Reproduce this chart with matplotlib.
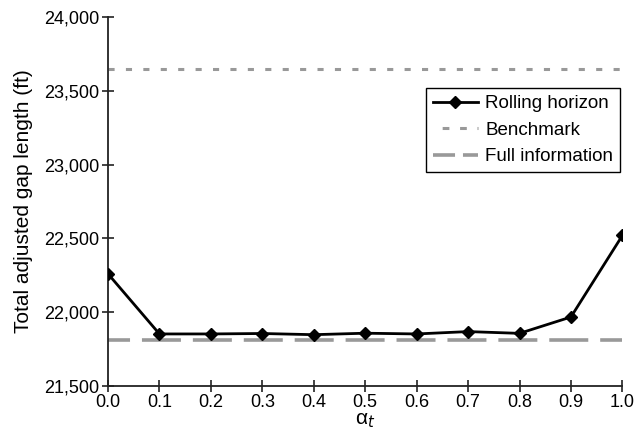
import matplotlib
matplotlib.use("Agg")
import matplotlib.pyplot as plt
from matplotlib.lines import Line2D
from matplotlib.ticker import FuncFormatter

plt.rcParams['font.family'] = ['Liberation Sans', 'DejaVu Sans']

# data
alpha = [0.0, 0.1, 0.2, 0.3, 0.4, 0.5, 0.6, 0.7, 0.8, 0.9, 1.0]
rolling = [22260, 21852, 21852, 21855, 21847, 21857, 21852, 21868, 21856, 21967, 22520]
benchmark = 23650
full_info = 21812

fig = plt.figure(figsize=(6.39, 4.34), dpi=100)
ax = fig.add_axes([0.169, 0.111, 0.805, 0.849])

ax.axhline(benchmark, color='#999999', lw=2.2, linestyle=(0, (2, 3.7)), zorder=1)
ax.axhline(full_info, color='#999999', lw=2.6, linestyle=(4.7, (10.8, 3.3)), zorder=1)
ax.plot(alpha, rolling, color='black', lw=2, marker='D', markersize=6.5, zorder=3)

ax.set_xlim(0, 1.0)
ax.set_ylim(21500, 24000)
ax.set_xticks([i / 10 for i in range(11)])
ax.set_yticks(range(21500, 24001, 500))
ax.yaxis.set_major_formatter(FuncFormatter(lambda v, p: f"{int(v):,}"))
ax.xaxis.set_major_formatter(FuncFormatter(lambda v, p: f"{v:.1f}"))
ax.tick_params(direction='inout', length=8, width=1.2, labelsize=13, color='#222222', pad=2)

for side in ['top', 'right']:
    ax.spines[side].set_visible(False)
for side in ['left', 'bottom']:
    ax.spines[side].set_linewidth(1.3)
    ax.spines[side].set_color('#222222')

ax.set_ylabel('Total adjusted gap length (ft)', fontsize=15, labelpad=8)
ax.set_xlabel(r'α$_t$', fontsize=15, labelpad=0)

# legend keys drawn with shorter dashes, as in the original
handles = [
    Line2D([], [], color='black', lw=2, marker='D', markersize=6.5),
    Line2D([], [], color='#999999', lw=2.2, linestyle=(-3, (2.2, 3.5))),
    Line2D([], [], color='#999999', lw=2.6, linestyle=(0, (6.1, 2.2))),
]
labels = ['Rolling horizon', 'Benchmark', 'Full information']
leg = ax.legend(handles, labels,
                loc='upper right', bbox_to_anchor=(0.995, 0.807), borderaxespad=0,
                fontsize=13.5, fancybox=False, edgecolor='black', framealpha=1,
                handlelength=2.4, handletextpad=0.4, borderpad=0.35, labelspacing=0.5)
leg.get_frame().set_linewidth(1.0)

fig.savefig('out.png', dpi=100)
